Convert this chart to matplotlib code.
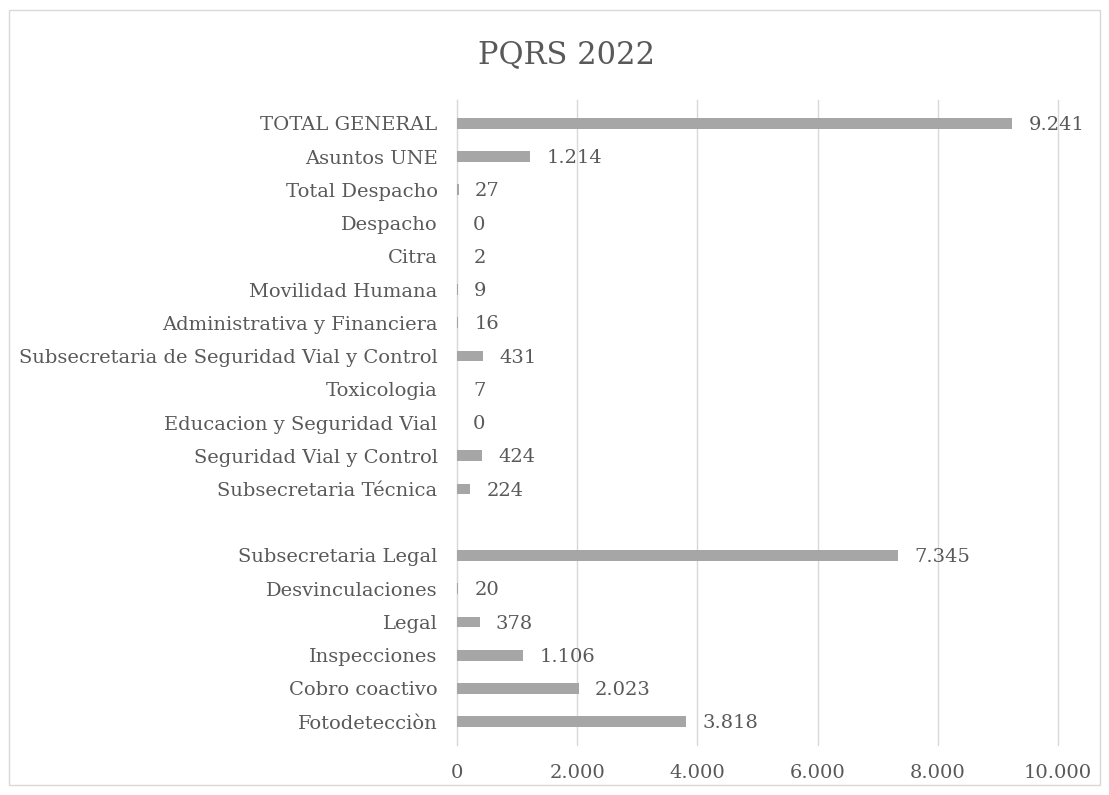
import numpy as np
import matplotlib.pyplot as plt
from matplotlib.patches import Rectangle

categories = ["TOTAL GENERAL", "Asuntos UNE", "Total Despacho", "Despacho", "Citra",
              "Movilidad Humana", "Administrativa y Financiera",
              "Subsecretaria de Seguridad Vial y Control", "Toxicologia",
              "Educacion y Seguridad Vial", "Seguridad Vial y Control",
              "Subsecretaria Técnica", "", "Subsecretaria Legal", "Desvinculaciones",
              "Legal", "Inspecciones", "Cobro coactivo", "Fotodetecciòn"]
values = [9241, 1214, 27, 0, 2, 9, 16, 431, 7, 0, 424, 224, np.nan,
          7345, 20, 378, 1106, 2023, 3818]
value_labels = ["9.241", "1.214", "27", "0", "2", "9", "16", "431", "7", "0", "424", "224", "",
                "7.345", "20", "378", "1.106", "2.023", "3.818"]
xticks = [0, 2000, 4000, 6000, 8000, 10000]
xtick_labels = ["0", "2.000", "4.000", "6.000", "8.000", "10.000"]
title = "PQRS 2022"

plt.rcParams['font.family'] = ['DejaVu Serif']
text_color = "#595959"

fig = plt.figure(figsize=(11.09, 7.95), dpi=100)
fig.patches.append(Rectangle((0.008, 0.012), 0.984, 0.976, transform=fig.transFigure,
                             fill=False, edgecolor="#d9d9d9", linewidth=1))
ax = fig.add_axes([457 / 1109, 1 - 745 / 795, (1058 - 457) / 1109, (745 - 100) / 795])

y = np.arange(len(categories))
ax.barh(y, values, height=0.32, color="#a6a6a6", zorder=3)
for yi, v, lab in zip(y, values, value_labels):
    if lab:
        ax.text(v + 270, yi + 0.05, lab, va="center", ha="left", fontsize=14, color=text_color)

ax.set_yticks(y)
ax.set_yticklabels(categories, fontsize=14, color=text_color)
ax.set_ylim(len(categories) - 0.5 + 0.2, -0.5 - 0.2)
ax.set_xlim(0, 10000)
ax.set_xticks(xticks)
ax.set_xticklabels(xtick_labels, fontsize=14, color=text_color)
ax.tick_params(axis="both", length=0, pad=14)
ax.grid(axis="x", color="#d9d9d9", linewidth=1, zorder=0)
for gl in ax.get_xgridlines():
    gl.set_clip_on(False)
for s in ["top", "right", "bottom"]:
    ax.spines[s].set_visible(False)
ax.spines["left"].set_color("#d9d9d9")

fig.text(567 / 1109, 1 - 55 / 795, title, ha="center", va="center", fontsize=22, color=text_color)

fig.savefig("out.png", dpi=100)
